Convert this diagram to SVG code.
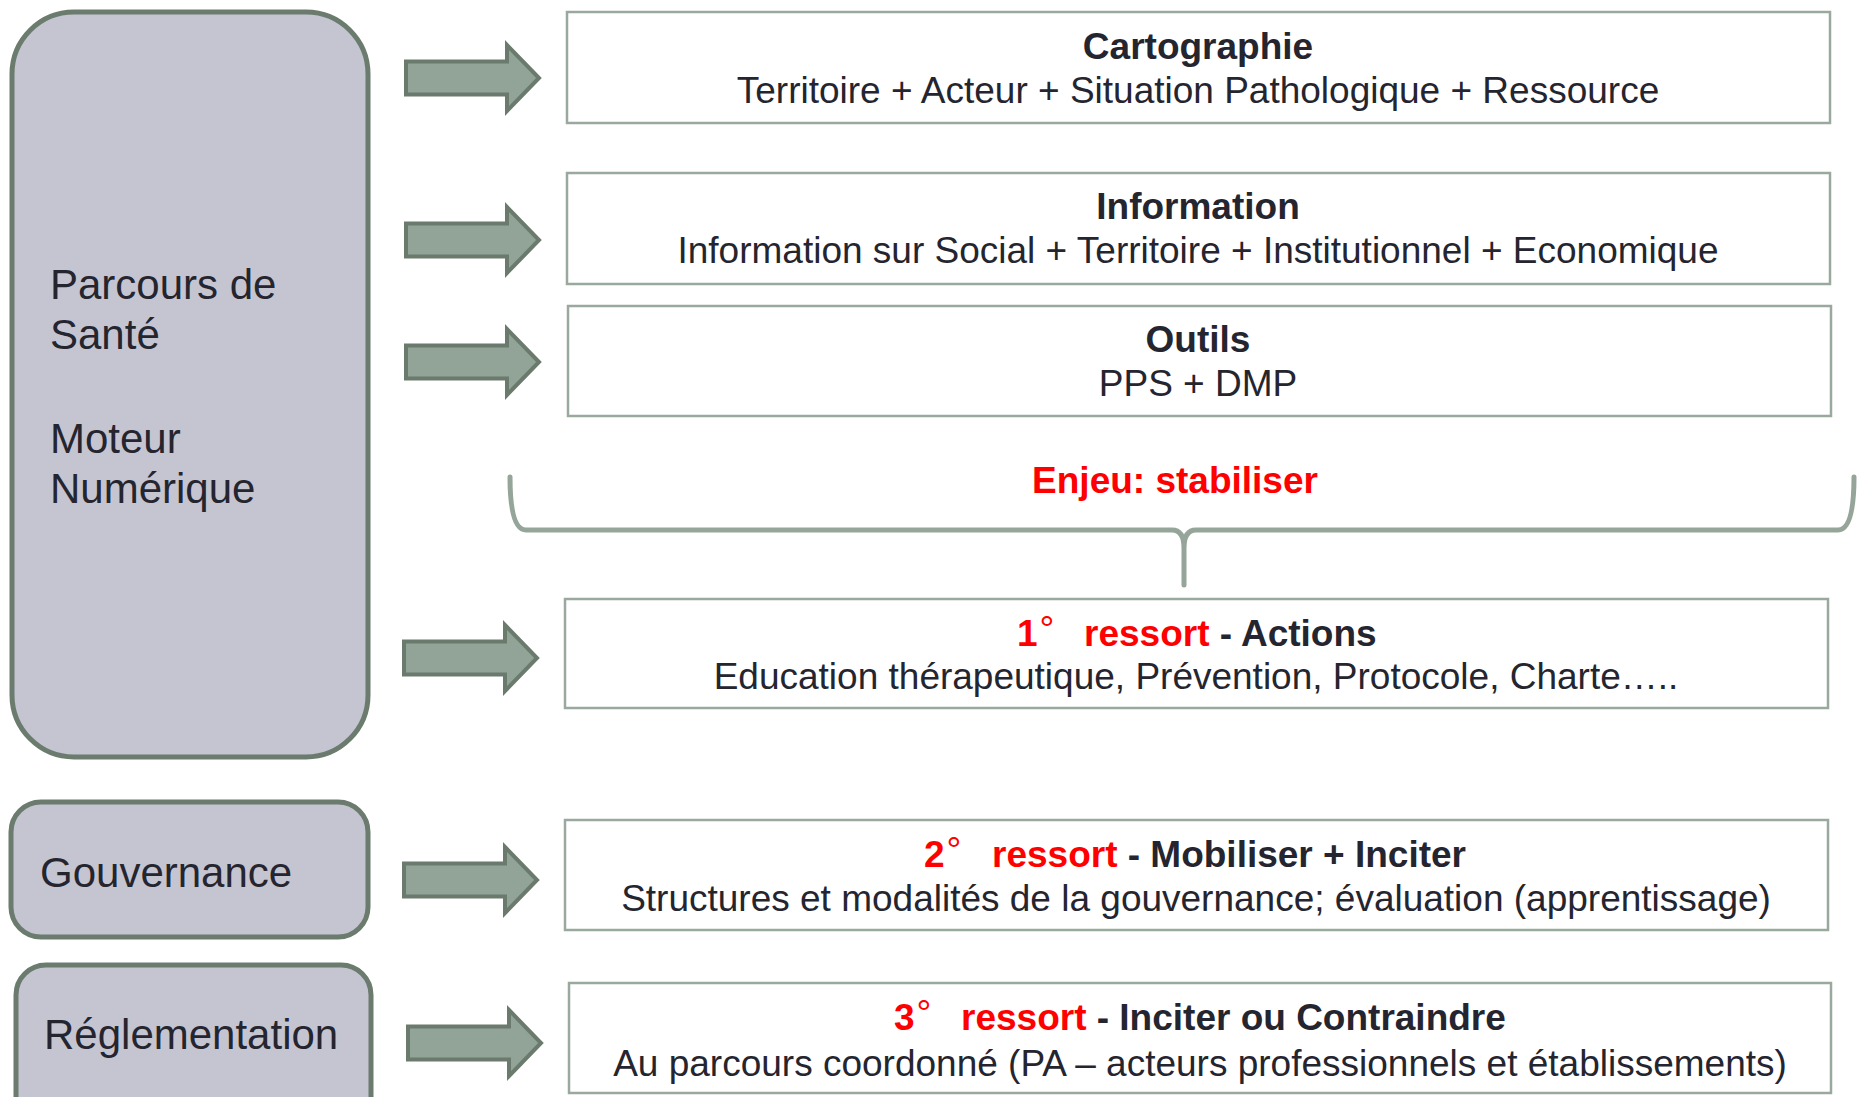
<svg xmlns="http://www.w3.org/2000/svg" width="1857" height="1097" viewBox="0 0 1857 1097">
<defs>
<style>
.lbox{fill:#C5C5D2;stroke:#6B7B6E;stroke-width:5}
.rbox{fill:#FFFFFF;stroke:#9AA99E;stroke-width:2.5}
.arr{fill:#92A398;stroke:#6A7A6D;stroke-width:4;stroke-linejoin:miter}
.brace{fill:none;stroke:#95A59A;stroke-width:5;stroke-linecap:round;stroke-linejoin:round}
.ltxt{font-family:"Liberation Sans",Arial,sans-serif;font-size:42px;fill:#25252F}
.t{font-family:"Liberation Sans",Arial,sans-serif;font-size:37px;fill:#25252F;font-weight:bold}
.b{font-family:"Liberation Sans",Arial,sans-serif;font-size:37px;fill:#25252F;text-anchor:middle}
.red{fill:#FF0000}
.deg{font-weight:normal}
</style>
<path id="arrowShape" d="M0,-16.5 H101 V-33 L133,0 L101,33 V16.5 H0 Z"/>
</defs>
<rect width="1857" height="1097" fill="#FFFFFF"/>

<g id="parcours">
<rect class="lbox" x="12" y="12" width="356" height="745" rx="62" ry="62"/>
<text class="ltxt" x="50" y="299">Parcours de</text>
<text class="ltxt" x="50" y="349">Santé</text>
<text class="ltxt" x="50" y="453">Moteur</text>
<text class="ltxt" x="50" y="503">Numérique</text>
</g>

<g id="gouvernance">
<rect class="lbox" x="11" y="802" width="357" height="135" rx="30" ry="30"/>
<text class="ltxt" x="40" y="887">Gouvernance</text>
</g>

<g id="reglementation">
<rect class="lbox" x="16" y="965" width="355" height="170" rx="30" ry="30"/>
<text class="ltxt" x="44" y="1049">Réglementation</text>
</g>

<g id="cartographie">
<rect class="rbox" x="567" y="12" width="1263" height="111"/>
<text class="b" x="1198" y="59" font-weight="bold">Cartographie</text>
<text class="b" x="1198" y="103">Territoire + Acteur + Situation Pathologique + Ressource</text>
</g>

<g id="information">
<rect class="rbox" x="567" y="173" width="1263" height="111"/>
<text class="b" x="1198" y="219" font-weight="bold">Information</text>
<text class="b" x="1198" y="263">Information sur Social + Territoire + Institutionnel + Economique</text>
</g>

<g id="outils">
<rect class="rbox" x="568" y="306" width="1263" height="110"/>
<text class="b" x="1198" y="352" font-weight="bold">Outils</text>
<text class="b" x="1198" y="396">PPS + DMP</text>
</g>

<g id="enjeu">
<text class="t red" x="1175" y="493" text-anchor="middle">Enjeu: stabiliser</text>
</g>

<g id="ressort1">
<rect class="rbox" x="565" y="599" width="1263" height="109"/>
<text class="t" y="646"><tspan class="red" x="1017">1</tspan><tspan class="red deg" dx="2" dy="-4">°</tspan><tspan class="red" x="1084" dy="4">ressort</tspan> - Actions</text>
<text class="b" x="1196" y="689">Education thérapeutique, Prévention, Protocole, Charte…..</text>
</g>

<g id="ressort2">
<rect class="rbox" x="565" y="820" width="1263" height="110"/>
<text class="t" y="867"><tspan class="red" x="924">2</tspan><tspan class="red deg" dx="2" dy="-4">°</tspan><tspan class="red" x="992" dy="4">ressort</tspan> - Mobiliser + Inciter</text>
<text class="b" x="1196" y="911">Structures et modalités de la gouvernance; évaluation (apprentissage)</text>
</g>

<g id="ressort3">
<rect class="rbox" x="569" y="983" width="1262" height="110"/>
<text class="t" y="1030"><tspan class="red" x="894">3</tspan><tspan class="red deg" dx="2" dy="-4">°</tspan><tspan class="red" x="961" dy="4">ressort</tspan> - Inciter ou Contraindre</text>
<text class="b" x="1200" y="1076">Au parcours coordonné (PA – acteurs professionnels et établissements)</text>
</g>

<g id="connectors">
<use href="#arrowShape" class="arr" transform="translate(406,78)"/>
<use href="#arrowShape" class="arr" transform="translate(406,240)"/>
<use href="#arrowShape" class="arr" transform="translate(406,362)"/>
<use href="#arrowShape" class="arr" transform="translate(404,658)"/>
<use href="#arrowShape" class="arr" transform="translate(404,880)"/>
<use href="#arrowShape" class="arr" transform="translate(408,1043)"/>
<path class="brace" d="M510,477 Q510,530 526,530 L1172,530 Q1184,530 1184,548 L1184,585 M1184,548 Q1184,530 1196,530 L1838,530 Q1854,530 1854,477"/>
</g>
</svg>
